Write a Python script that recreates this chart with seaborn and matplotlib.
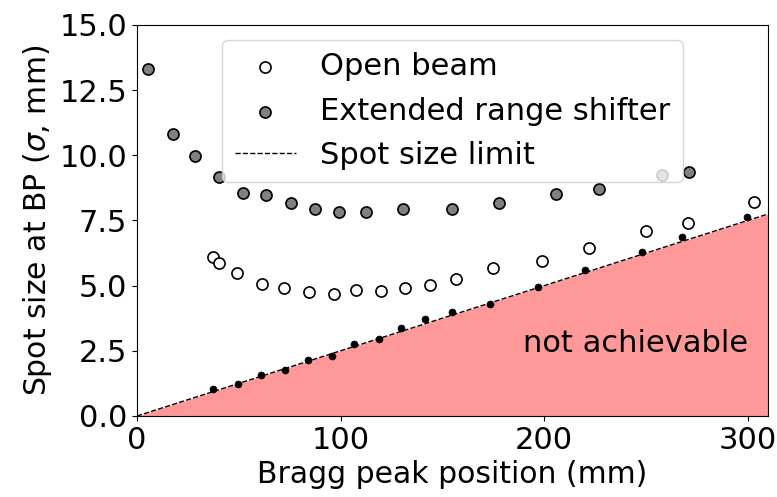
import numpy as np
import pandas as pd
import matplotlib
matplotlib.use("Agg")
import matplotlib.pyplot as plt
import seaborn as sns

# Spot size (sigma, mm) versus Bragg peak position (mm)
open_x = [37.5, 40.5, 49.3, 61.6, 72.3, 84.6, 96.9, 107.6, 119.9, 131.5,
          143.8, 156.8, 174.8, 198.9, 222.0, 249.9, 270.9, 302.9]
open_y = [6.09, 5.88, 5.47, 5.07, 4.90, 4.76, 4.69, 4.82, 4.81, 4.90,
          5.02, 5.24, 5.69, 5.96, 6.43, 7.10, 7.41, 8.20]

ers_x = [5.4, 17.7, 28.5, 40.3, 52.1, 63.5, 75.7, 87.6, 99.4, 112.6,
         130.8, 155.0, 178.0, 206.0, 226.8, 257.7, 271.0]
ers_y = [13.31, 10.82, 9.97, 9.17, 8.55, 8.48, 8.17, 7.94, 7.83, 7.83,
         7.94, 7.94, 8.17, 8.52, 8.71, 9.24, 9.36]

limit_x = [37.5, 49.5, 60.8, 72.5, 83.8, 95.6, 106.7, 118.7, 129.7, 141.7,
           154.8, 173.6, 196.8, 220.0, 247.9, 267.9, 299.9]
limit_y = [1.02, 1.22, 1.56, 1.76, 2.14, 2.31, 2.76, 2.94, 3.36, 3.72,
           4.00, 4.28, 4.96, 5.59, 6.29, 6.87, 7.62]

# Linear spot size limit: sigma = slope * range
limit_slope = 0.025
x_max = 310.0

plt.rcParams["font.size"] = 22
plt.rcParams["axes.labelsize"] = 21.5

fig, ax = plt.subplots(figsize=(7.77, 4.97), dpi=100)
fig.subplots_adjust(left=0.1763, right=0.9884, top=0.9497, bottom=0.163)

line_x = np.array([0.0, x_max])
line_y = limit_slope * line_x
ax.fill_between(line_x, 0, line_y, color="red", alpha=0.4, linewidth=0, zorder=1)

df_open = pd.DataFrame({"x": open_x, "y": open_y})
df_ers = pd.DataFrame({"x": ers_x, "y": ers_y})
df_lim = pd.DataFrame({"x": limit_x, "y": limit_y})

sns.scatterplot(data=df_open, x="x", y="y", ax=ax, marker="o", s=64,
                facecolor="white", edgecolor="black", linewidth=1.2,
                label="Open beam", zorder=3)
sns.scatterplot(data=df_ers, x="x", y="y", ax=ax, marker="o", s=64,
                color="gray", edgecolor="black", linewidth=1.2,
                label="Extended range shifter", zorder=3)
sns.lineplot(x=line_x, y=line_y, ax=ax, color="black", linestyle="--",
             linewidth=1, label="Spot size limit", zorder=2)
sns.scatterplot(data=df_lim, x="x", y="y", ax=ax, marker="o", s=25,
                color="black", edgecolor="black", linewidth=0.5,
                legend=False, zorder=3)

ax.text(245, 2.8, "not achievable", ha="center", va="center", fontsize=22)

ax.set_xlim(0, x_max)
ax.set_ylim(0, 15)
ax.set_xticks([0, 100, 200, 300])
ax.set_yticks(np.arange(0, 15.01, 2.5))
ax.set_xlabel("Bragg peak position (mm)")
ax.set_ylabel(r"Spot size at BP ($\sigma$, mm)")
ax.legend(loc="upper center", fontsize=22)

fig.savefig("out.png", dpi=100)
